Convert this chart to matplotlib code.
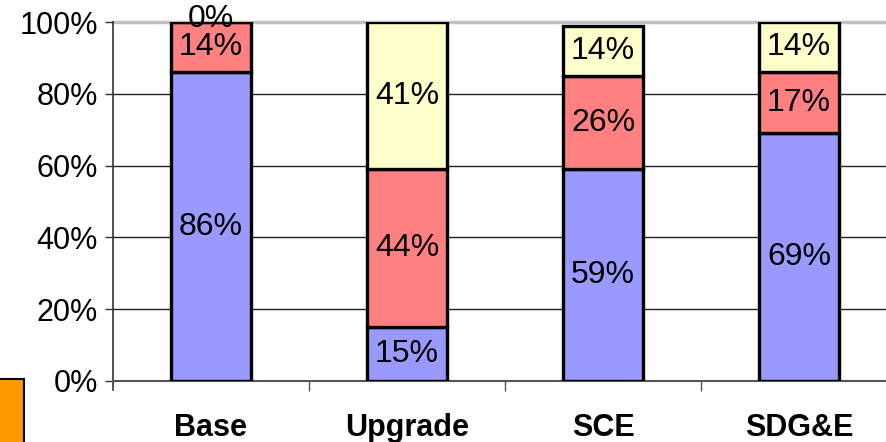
import matplotlib
matplotlib.use("Agg")
import matplotlib.pyplot as plt
from matplotlib.patches import Rectangle
import numpy as np

plt.rcParams['font.family'] = ['Liberation Sans', 'DejaVu Sans']

categories = ["Base", "Upgrade", "SCE", "SDG&E"]
bottom_share = [86, 15, 59, 69]
middle_share = [14, 44, 26, 17]
top_share = [0, 41, 14, 14]

colors = ["#9999FF", "#FF8080", "#FFFFCC"]

fig = plt.figure(figsize=(8.87, 4.42), dpi=100)
ax = fig.add_axes([113 / 887, 1 - 381 / 442, (897 - 113) / 887, (381 - 22) / 442])

x = np.arange(len(categories))
width = 0.41
series = [bottom_share, middle_share, top_share]
base = np.zeros(len(categories))
for vals, col in zip(series, colors):
    vals = np.array(vals, dtype=float)
    ax.bar(x, vals, width, bottom=base, color=col, edgecolor="black",
           linewidth=2.4, zorder=3)
    for xi, b, v in zip(x, base, vals):
        # zero-height segments get their label just above the stack
        ypos = b + v / 2 if v > 0 else b + 0.8
        ax.text(xi, ypos, f"{int(v)}%", ha="center", va="center",
                fontsize=23, color="black", zorder=4, clip_on=False)
    base += vals

ax.set_xlim(-0.5, len(categories) - 0.5)
ax.set_ylim(0, 100)

# Horizontal gridlines
for yv in [20, 40, 60, 80]:
    ax.axhline(yv, color="#222222", linewidth=1.0, zorder=1)
ax.axhline(100, color="#c0c0c0", linewidth=2.5, zorder=1, clip_on=False)

ax.set_yticks([0, 20, 40, 60, 80, 100])
ax.set_yticklabels(["0%", "20%", "40%", "60%", "80%", "100%"], fontsize=22)
ax.tick_params(axis="y", length=6, width=1, color="#333333", pad=5)

# Category labels and boundary ticks
ax.set_xticks(x)
ax.set_xticklabels(categories, fontsize=22, fontweight="bold")
ax.tick_params(axis="x", length=0, pad=23)
ax.set_xticks(np.arange(0.5, len(categories) - 0.5, 1), minor=True)
ax.tick_params(axis="x", which="minor", length=7, width=1, color="#555555")

for s in ["top", "right"]:
    ax.spines[s].set_visible(False)
ax.spines["left"].set_color("#333333")
ax.spines["left"].set_linewidth(1.2)
ax.spines["left"].set_bounds(-2.5, 100)
ax.spines["bottom"].set_color("#555555")
ax.spines["bottom"].set_linewidth(1.5)

# Orange marker block in the lower-left corner
fig.patches.append(Rectangle((-5 / 887, -10 / 442), 29 / 887, (442 - 379 + 10) / 442,
                             transform=fig.transFigure, facecolor="#FF9900",
                             edgecolor="black", linewidth=1.5))

fig.savefig("out.png", dpi=100)
